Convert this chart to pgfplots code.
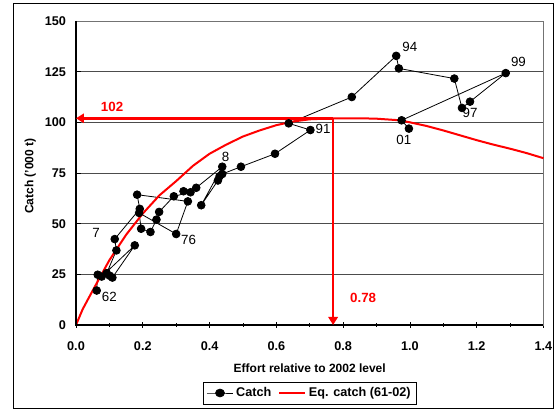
\documentclass[border=0pt]{standalone}
\usepackage{fontspec}
\setmainfont{Liberation Sans}
\usepackage{pgfplots}
\usepackage{pgfplotstable}
\pgfplotsset{compat=1.18}
\usetikzlibrary{arrows.meta}

% catch by year, effort relative to 2002
\pgfplotstableread{
x y
0.062 17.0
0.065 24.8
0.077 23.9
0.176 39.3
0.109 23.4
0.101 24.3
0.092 25.6
0.121 36.8
0.116 42.4
0.191 57.3
0.183 64.3
0.335 61.0
0.300 44.9
0.189 55.3
0.195 47.5
0.223 45.9
0.241 52.0
0.249 55.8
0.293 63.5
0.343 65.5
0.322 66.0
0.360 67.7
0.438 78.1
0.375 59.1
0.425 71.3
0.430 73.4
0.438 74.5
0.494 78.1
0.596 84.5
0.702 96.2
0.637 99.5
0.826 112.5
0.959 132.8
0.967 126.6
1.133 121.6
1.156 107.1
1.180 110.2
1.287 124.3
0.975 101.0
0.997 96.9
}\catch

% equilibrium catch curve (61-02)
\pgfplotstableread{
x y
0.00 0
0.02 7.8
0.05 17
0.10 32
0.15 44.5
0.20 55
0.25 64
0.30 71
0.35 78.5
0.40 84.5
0.45 89
0.50 93
0.55 96
0.60 98.6
0.65 100.4
0.70 101.5
0.78 102
0.85 102
0.90 101.8
0.97 101
1.00 100
1.05 98.2
1.10 96
1.15 93.6
1.20 91.2
1.25 89
1.30 87
1.35 84.8
1.40 82.3
}\eqcatch

\begin{document}
\begin{tikzpicture}
\begin{axis}[
  scale only axis,
  width=350.6pt, height=228pt,
  xmin=0, xmax=1.4, ymin=0, ymax=150,
  xtick={0,0.2,0.4,0.6,0.8,1.0,1.2,1.4},
  minor x tick num=1,
  ytick={0,25,50,75,100,125,150},
  /pgf/number format/assume math mode=true,
  x tick label style={/pgf/number format/fixed,/pgf/number format/fixed zerofill,/pgf/number format/precision=1, yshift=-7pt},
  y tick label style={xshift=-4pt},
  ticklabel style={font=\bfseries\fontsize{9.5}{11}\selectfont},
  tick pos=left,
  xtick align=center,
  ytick align=inside,
  major tick length=4pt,
  minor tick length=2.5pt,
  tick style={black, line width=0.6pt},
  axis line style={draw=black!55, line width=0.6pt},
  ymajorgrids,
  grid style={black!70, line width=0.5pt},
  xlabel={Effort relative to 2002 level},
  ylabel={Catch ('000 t)},
  label style={font=\bfseries\fontsize{9}{11}\selectfont},
  xlabel style={at={(axis description cs:0.5,-0.141)}, anchor=center},
  ylabel style={at={(axis description cs:-0.098,0.49)}, anchor=center},
  legend style={at={(0.5005,-0.2237)}, anchor=center, draw=black, line width=0.6pt,
    font=\bfseries\fontsize{9.5}{11}\selectfont, inner sep=2pt,
    /tikz/every even column/.append style={column sep=3pt}},
  legend image post style={xscale=1.15},
  legend columns=2,
  legend cell align=left,
  clip=false,
]
\addplot[black, line width=0.6pt, mark=*, mark size=2.9pt] table[x=x, y=y] {\catch};
\addlegendentry{Catch}
\addplot[red, line width=1.5pt, no marks] table[x=x, y=y] {\eqcatch};
\addlegendentry{Eq. catch (61-02)}

\draw[black, line width=1.1pt] (rel axis cs:0,1) -- (rel axis cs:0,0) -- (rel axis cs:1,0);
\draw[red, line width=2pt, -{Triangle[length=6pt,width=7pt]}] (axis cs:0.77,102) -- (axis cs:0,102);
\draw[red, line width=2pt, -{Triangle[length=6pt,width=7pt]}] (axis cs:0.77,102) -- (axis cs:0.77,0);

\node[red, font=\bfseries\fontsize{10}{12}\selectfont] at (axis cs:0.108,107.5) {102};
\node[red, font=\bfseries\fontsize{10}{12}\selectfont] at (axis cs:0.86,13.3) {0.78};

\begin{scope}[every node/.style={font=\fontsize{10}{12}\selectfont}]
\node at (axis cs:0.10,13.8) {62};
\node at (axis cs:0.06,45.4) {7};
\node at (axis cs:0.337,42) {76};
\node at (axis cs:0.448,83) {8};
\node at (axis cs:0.74,97) {91};
\node at (axis cs:1.0,137) {94};
\node at (axis cs:1.18,104.6) {97};
\node at (axis cs:1.325,129.7) {99};
\node at (axis cs:0.982,91.3) {01};
\end{scope}
\end{axis}
\draw[black, line width=0.7pt] ([shift={(-47.25pt,-62.25pt)}]current axis.south west) rectangle ([shift={(357.75pt,241.5pt)}]current axis.south west);
\pgfresetboundingbox
\path[use as bounding box] ([shift={(-57pt,-63.75pt)}]current axis.south west) rectangle ([shift={(360.75pt,243.75pt)}]current axis.south west);
\end{tikzpicture}
\end{document}
